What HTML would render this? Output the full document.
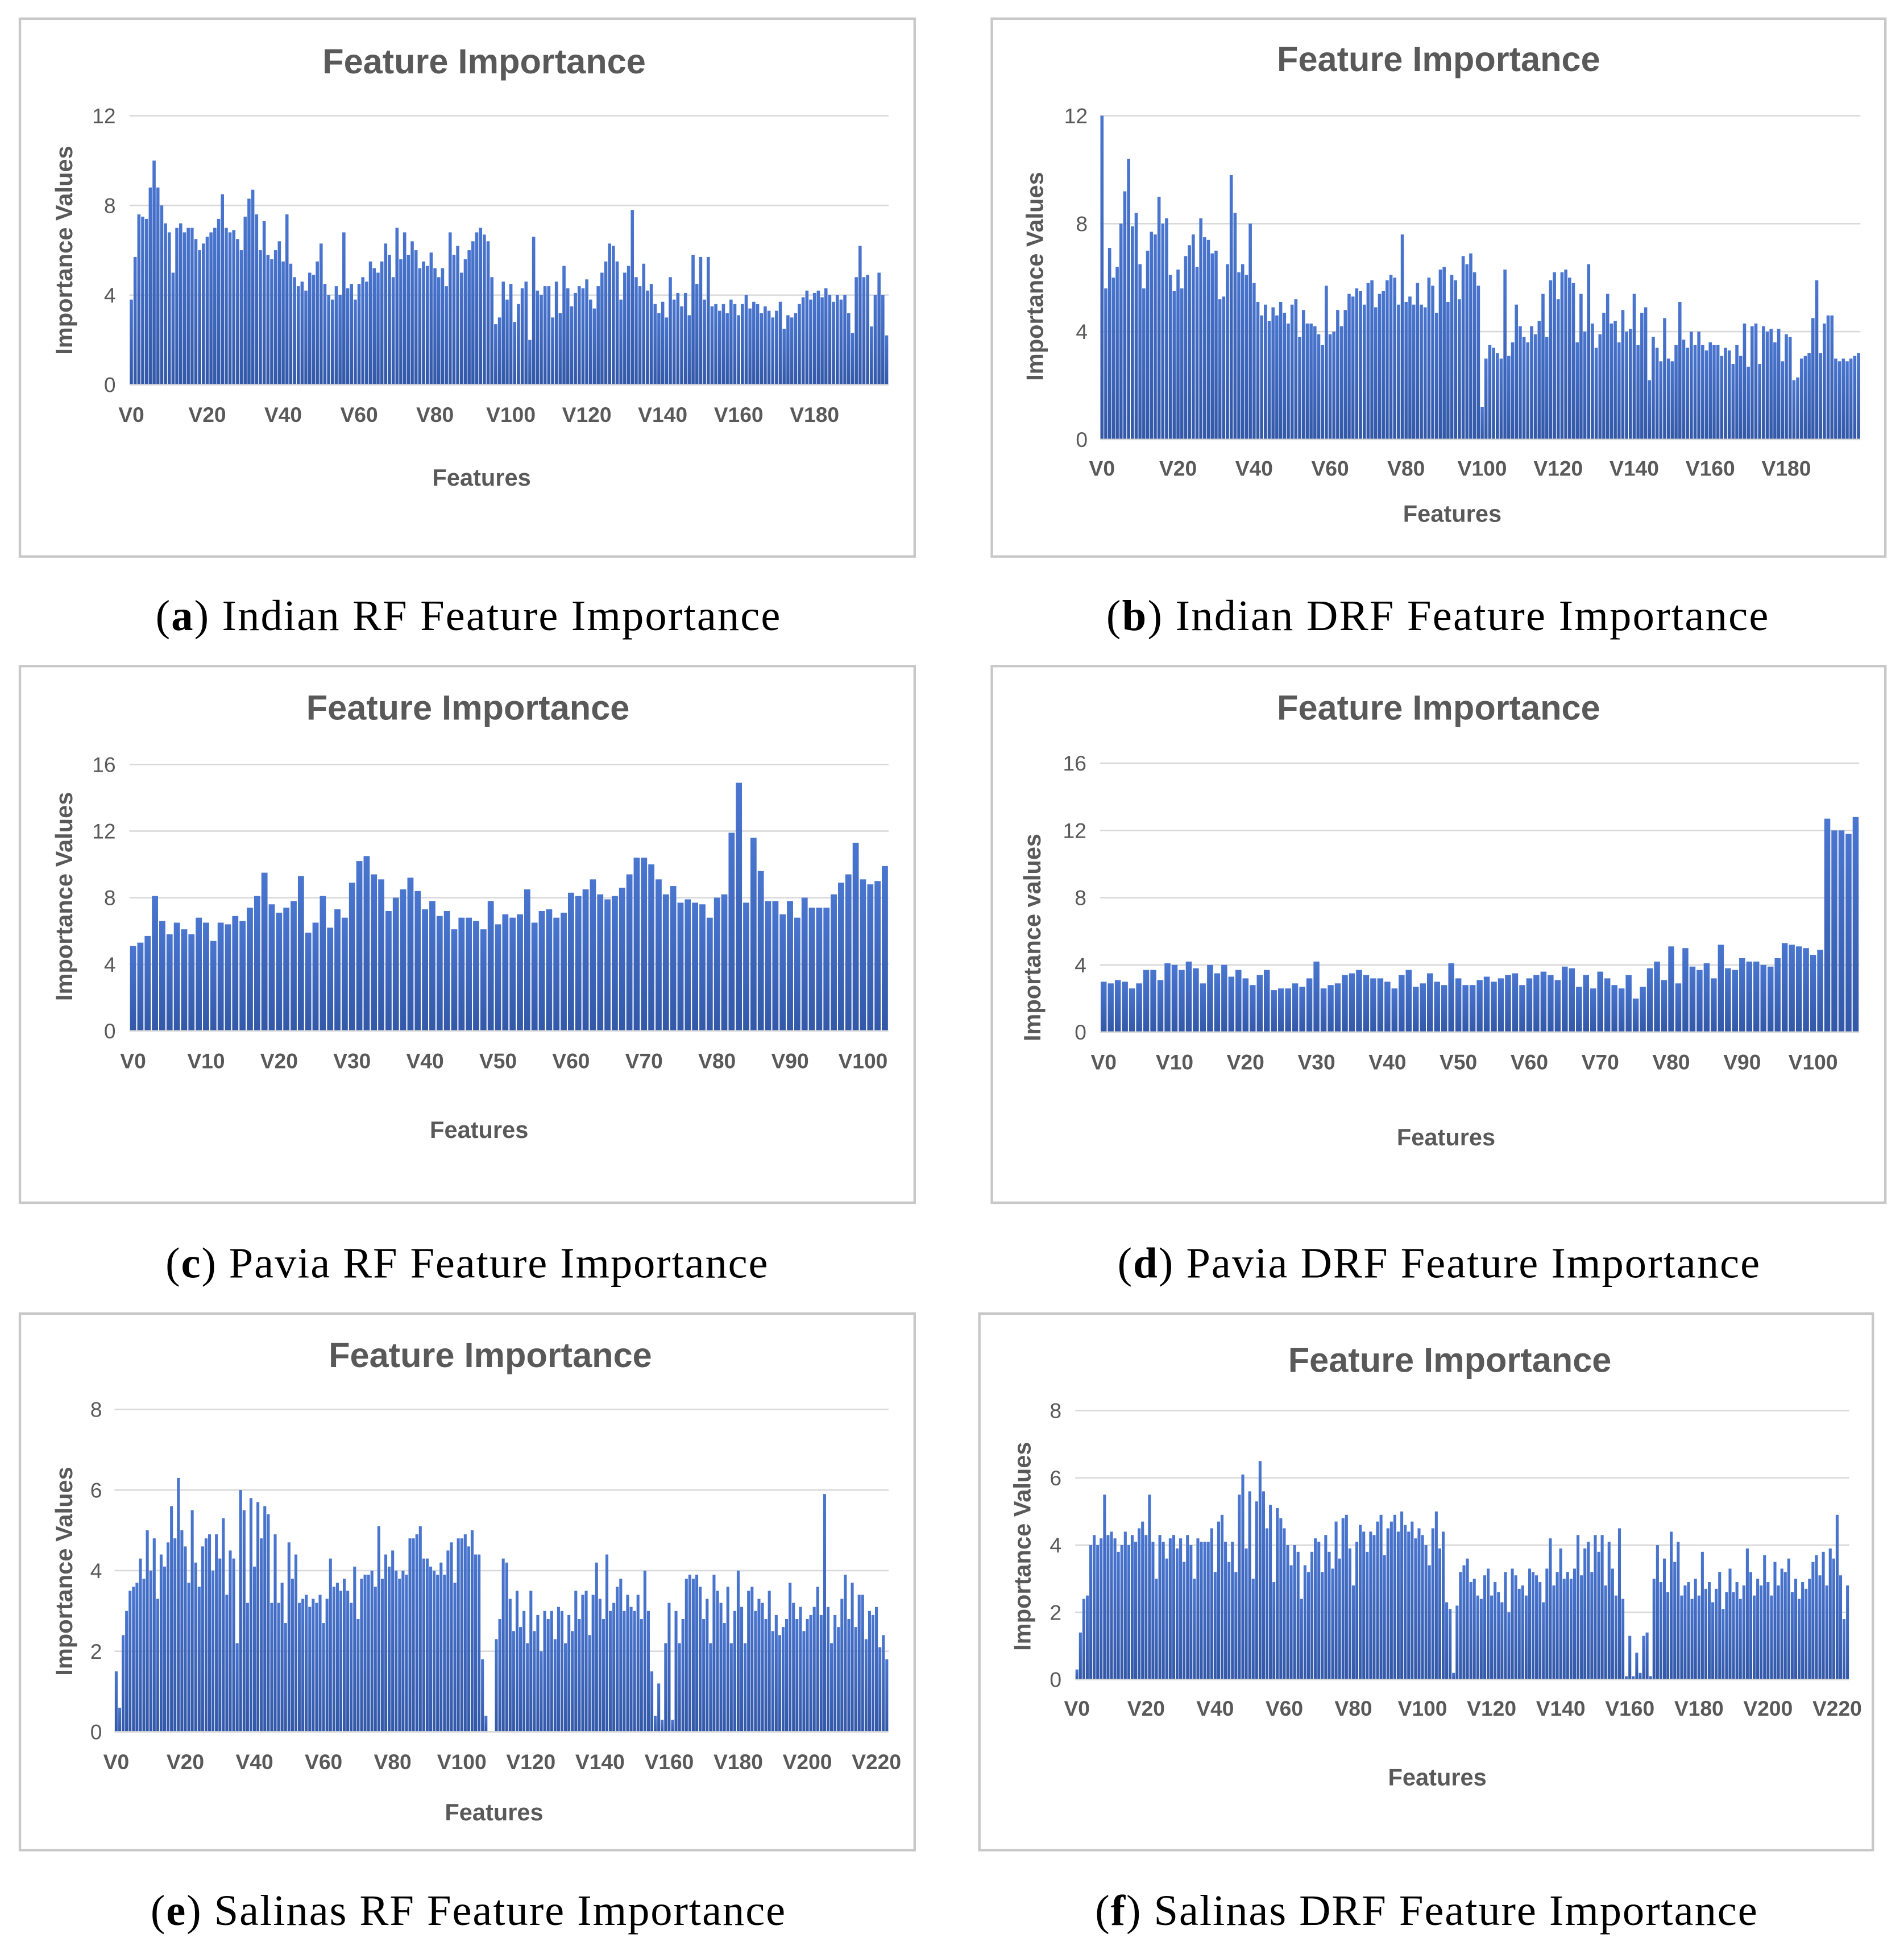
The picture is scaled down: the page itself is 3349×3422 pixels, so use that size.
<!DOCTYPE html>
<html><head><meta charset="utf-8">
<style>
html,body{margin:0;padding:0;background:#fff;}
svg{display:block;}
.t{font-family:"Liberation Sans",sans-serif;fill:#595959;}
.cap{font-family:"Liberation Serif",serif;fill:#000;font-size:35px;}
</style></head>
<body>
<svg id="fig" width="3349" height="3422" viewBox="0 0 1530 1563" preserveAspectRatio="none" xmlns="http://www.w3.org/2000/svg">
<defs>
<linearGradient id="bg" x1="0" y1="0" x2="0" y2="1"><stop offset="0" stop-color="#4a76d0"/><stop offset="1" stop-color="#3358a8"/></linearGradient>
</defs>
</svg>
<script>
const valsA=[3.8,5.7,7.6,7.5,7.4,8.8,10,8.8,8,7.2, 6.8,5,7,7.2,6.8,7,7,6.5,6,6.3, 6.6,6.8,7,7.4,8.5,7,6.8,6.9,6.5,6, 7.5,8.3,8.7,7.6,6,7.3,5.8,5.6,6,6.4, 5.5,7.6,5.4,4.8,4.4,4.6,4.2,5,4.9,5.5, 6.3,4.5,4,3.8,4.4,4,6.8,4.3,4.5,3.8, 4.5,4.8,4.6,5.5,5.2,5,5.5,6.3,5.8,4.8, 7,5.6,6.8,5.8,6.4,6,5.2,5.5,5.3,5.9, 5.2,4.8,5.2,4.4,6.8,5.8,6.2,5,5.6,6, 6.4,6.8,7,6.7,6.4,4.8,2.7,3,4.6,3.8, 4.5,2.8,3.6,4.3,4.6,2,6.6,4.2,4,4.4, 4.4,3,4.6,3.2,5.3,4.3,3.5,4.1,4.4,4.3, 4.7,3.8,3.4,4.4,5,5.5,6.3,6.2,5.5,3.8, 5,5.3,7.8,4.8,4.4,5.4,4.2,4.5,3.6,3.2, 3.7,3,4.8,3.8,4.1,3.5,4.1,3.1,5.8,4.5, 5.7,3.8,5.7,3.5,3.6,3.3,3.6,3.2,3.8,3.6, 3.1,3.6,4,3.4,3.7,3.6,3.2,3.5,3.3,3, 3.3,3.7,2.5,3.1,3,3.2,3.6,3.9,4.2,3.8, 4.1,4.2,3.9,4.3,4,3.7,4,3.8,4,3.2, 2.3,4.8,6.2,4.8,4.9,2.6,4,5,4,2.2];
const valsB=[12,5.6,7.1,6,6.4,8,9.2,10.4,7.9,8.4, 6.5,5.6,7,7.7,7.6,9,8,8.2,6.1,5.5, 6.3,5.6,6.8,7.2,7.6,6.4,8.2,7.5,7.4,6.9, 7,5.2,5.3,6.5,9.8,8.4,6.2,6.5,6.1,8, 5.8,5.1,4.6,5,4.4,4.9,4.6,5.1,4.7,4.3, 5,5.2,3.8,4.8,4.3,4.3,4.2,3.9,3.5,5.7, 3.9,4,4.8,4.2,4.8,5.4,5.3,5.6,5.5,5, 5.8,5.9,4.9,5.4,5.5,5.9,6.1,6,5,7.6, 5.1,5.3,5,5.8,5,4.9,6,5.7,4.7,6.3, 6.4,5.1,6.1,5.9,5.2,6.8,6.5,6.9,6.2,5.7, 1.2,3,3.5,3.4,3.2,3,6.3,3.1,3.6,5, 4.2,3.8,3.6,4.2,3.9,4.4,5.4,3.8,5.9,6.2, 5.2,6.2,6.3,6,5.8,3.6,5.4,4,6.5,4.3, 3.4,3.9,4.7,5.4,4.3,4.4,3.6,4.8,4,4.1, 5.4,3.5,4.7,4.9,2.2,3.8,3.4,2.9,4.5,3, 2.9,3.5,5.1,3.7,3.4,4,3.5,4,3.5,3.3, 3.6,3.5,3.5,3.1,3.4,3.3,2.8,3.5,3.1,4.3, 2.7,4.2,4.3,2.8,4.2,4,4.1,3.6,4.1,2.9, 3.9,3.8,2.2,2.3,3,3.1,3.2,4.5,5.9,3.2, 4.3,4.6,4.6,3,2.9,3,2.9,3,3.1,3.2];
const valsC=[5.1,5.3,5.7,8.1,6.6,5.8,6.5,6.1,5.8,6.8, 6.5,5.4,6.5,6.4,6.9,6.6,7.4,8.1,9.5,7.6, 7.1,7.4,7.8,9.3,5.9,6.5,8.1,6.2,7.3,6.8, 8.9,10.2,10.5,9.4,9.1,7.2,8,8.5,9.2,8.4, 7.3,7.8,6.9,7.2,6.1,6.8,6.8,6.6,6.1,7.8, 6.4,7,6.8,7,8.5,6.5,7.2,7.3,6.8,7.1, 8.3,8.1,8.5,9.1,8.2,7.9,8.1,8.6,9.4,10.4, 10.4,10,9.1,8.2,8.7,7.7,7.9,7.7,7.6,6.8, 8,8.2,11.9,14.9,7.7,11.6,9.6,7.8,7.8,7, 7.8,6.8,8,7.4,7.4,7.4,8.2,8.9,9.4,11.3, 9.1,8.8,9,9.9];
const valsD=[3,2.9,3.1,3,2.6,2.9,3.7,3.7,3.1,4.1, 4,3.7,4.2,3.8,2.9,4,3.5,4,3.3,3.7, 3.2,2.8,3.4,3.7,2.5,2.6,2.6,2.9,2.7,3.2, 4.2,2.6,2.8,2.9,3.4,3.5,3.7,3.4,3.2,3.2, 3,2.6,3.4,3.7,2.7,2.9,3.5,3,2.8,4.1, 3.2,2.8,2.8,3.1,3.3,3,3.2,3.4,3.5,2.8, 3.2,3.4,3.6,3.4,3.1,3.9,3.8,2.7,3.4,2.6, 3.6,3.2,2.8,2.6,3.4,2,2.7,3.8,4.2,3.1, 5.1,2.9,5,3.9,3.7,4.1,3.2,5.2,3.8,3.7, 4.4,4.2,4.2,4,3.9,4.4,5.3,5.2,5.1,5, 4.6,4.9,12.7,12,12,11.8,12.8];
const valsE=[1.5,0.6,2.4,3,3.5,3.6,3.7,4.3,3.8,5, 4,4.8,3.3,4.4,4.1,4.7,5.6,4.8,6.3,5, 4.6,3.7,5.5,4.2,3.6,4.6,4.8,4.9,4,4.9, 4.3,5.3,3.4,4.5,4.3,2.2,6,5.5,3.2,5.8, 4.1,5.7,4.8,5.6,5.4,3.2,4.9,3.2,3.7,2.7, 4.7,3.8,4.4,3.2,3.3,3.4,3.1,3.3,3.2,3.4, 2.7,3.3,4.3,3.6,3.7,3.5,3.8,3.5,3.2,4.1, 2.8,3.8,3.9,3.9,4,3.6,5.1,3.8,4.4,4.1, 4.5,4,3.8,4,3.9,4.8,4.8,4.9,5.1,4.3, 4.3,4.1,4,3.9,4.2,3.9,4.5,4.7,3.7,4.8, 4.8,4.9,4.6,5,4.4,4.4,1.8,0.4,0,0, 2.3,2.8,4.3,4.2,3.3,2.5,3.5,2.6,3,2.2, 3.5,2.5,2.9,2,3,2.8,3,2.3,3.1,3, 2.2,2.9,2.5,3.5,2.8,3.4,3.5,2.4,3.4,4.2, 3.3,2.8,4.4,3,3.2,3.6,3.8,3,3.4,3.1, 3,3.4,2.8,4,3,1.5,0.4,1.2,0.3,2.2, 3.2,0.3,3,2.2,2.8,3.8,3.9,3.8,3.9,3.6, 2.8,3.3,2.2,3.9,3.5,3.2,2.7,3.6,2.2,3, 4,3.1,2.2,3.5,3.6,3,3.3,3.2,2.8,3.5, 2.5,2.9,2.4,2.6,2.8,3.7,3.2,2.8,3.1,2.5, 2.8,2.9,3.1,3.6,2.9,5.9,3.1,2.2,2.9,2.6, 3.3,3.9,2.8,3.7,2.6,3.4,3.4,2.3,3,2.9, 3.1,2.1,2.4,1.8];
const valsF=[0.3,1.4,2.4,2.5,4,4.3,4,4.2,5.5,4.3, 4.4,4.2,3.8,4,4.4,4,4.3,4.1,4.5,4.7, 4.3,5.5,4.1,3,4.3,4.1,3.6,4.2,4.3,3.9, 4.2,3.5,4.3,4,3,4.2,4.1,4.1,4.1,4.5, 3.2,4.7,4.9,4.1,3.5,4.1,3.2,5.5,6.1,3.9, 5.6,3,5.3,6.5,5.6,4.5,5.2,2.9,5.1,4.8, 4.5,4,3.4,4,3.8,2.4,3.4,3.2,3.8,4.2, 4.1,3.2,4.3,3.8,3.3,4.7,3.6,4.8,4.9,3.9, 2.8,4.1,4.6,4.4,3.8,4.4,4.3,4.7,4.9,3.7, 4.5,4.7,4.9,4.4,5,4.6,4.4,4.7,4.2,4.5, 4.3,4,3.4,4.5,5,3.9,4.4,2.3,2.1,0.2, 2.2,3.2,3.4,3.6,2.9,3,2.5,2.4,3.1,3.3, 2.5,2.9,2.6,2.3,3.2,2,3.3,3.1,2.7,2.8, 2.5,3.3,3.2,3.1,2.9,2.3,3.3,4.2,2.8,3.2, 3.9,3,3.2,3,3.3,4.3,3.1,3.9,4.1,3.2, 4.3,3.8,4.3,2.8,4.1,3.3,2.5,4.5,2.4,0.1, 1.3,0.1,0.8,0.2,1.3,1.4,0.1,3,4,2.9, 3.6,2.6,4.4,3.5,4.1,2.5,2.8,2.9,2.4,3, 2.5,3.8,2.7,2.9,2.3,2.7,3.2,2.1,2.6,3.3, 2.6,2.9,2.4,2.8,3.9,3.2,2.5,3,2.8,3.7, 2.9,2.5,3.5,2.8,3.3,3.2,3.6,2.6,3,2.4, 2.9,2.7,3,3.5,3.7,3.1,3.8,2.8,3.9,3.6, 4.9,3.1,1.8,2.8];
const yTicksA=[0,4,8,12];
const yTicksC=[0,4,8,12,16];
const yTicksE=[0,2,4,6,8];
const xLabels20=["V0","V20","V40","V60","V80","V100","V120","V140","V160","V180"];
const xLabels10=["V0","V10","V20","V30","V40","V50","V60","V70","V80","V90","V100"];
const xLabels20e=["V0","V20","V40","V60","V80","V100","V120","V140","V160","V180","V200","V220"];

const NS="http://www.w3.org/2000/svg";
const svg=document.getElementById('fig');
function mk(tag,attrs,parent,text){const e=document.createElementNS(NS,tag);for(const k in attrs)e.setAttribute(k,attrs[k]);if(text!==undefined)e.textContent=text;(parent||svg).appendChild(e);return e;}

function chart(c){
  const g=mk('g',{});
  
  
  const box=mk('rect',{x:c.bx,y:c.by,width:c.bw,height:c.bh,fill:'#fff',stroke:'#c8c8c8','stroke-width':2},g);
  
  
  const ymax=c.ticks[c.ticks.length-1];
  const yS=v=>c.y0-(v/ymax)*(c.y0-c.yTop);
  const step=(c.x1-c.x0)/c.vals.length;
  const xS=i=>c.x0+i*step;
  c.ticks.forEach(t=>{
    if(t>0){const l=mk('line',{x1:c.x0,x2:c.x1,y1:yS(t),y2:yS(t),stroke:'#d9d9d9','stroke-width':1.2},g);
      
      }
    const tx=mk('text',{x:c.tickX,y:yS(t)+6,'text-anchor':'end','font-size':17,class:'t'},g,String(t));
    
    
  });
  c.vals.forEach((v,i)=>{
    const r=mk('rect',{x:xS(i)+step*0.08,y:yS(v),width:step*0.84,height:c.y0-yS(v),fill:'url(#bg)'},g);
    
    
  });
  const ax=mk('line',{x1:c.x0,x2:c.x1,y1:c.y0,y2:c.y0,stroke:'#d9d9d9','stroke-width':1.2},g);
  
  
  c.labels.forEach(s=>{
    const i=parseInt(s.slice(1));
    const tx=mk('text',{x:xS(i)+step/2,y:c.labY,'text-anchor':'middle','font-size':17,'font-weight':'bold',class:'t'},g,s);
    
    
  });
  const tt=mk('text',{x:c.titleX,y:c.titleY,'text-anchor':'middle','font-size':28,'font-weight':'bold',class:'t'},g,'Feature Importance');
  
  
  const yt=mk('text',{x:0,y:0,'text-anchor':'middle','font-size':19,'font-weight':'bold',class:'t',transform:`translate(${c.ytX},${c.ytY}) rotate(-90)`},g,c.ytitle);
  
  
  const xt=mk('text',{x:c.xtX,y:c.xtY,'text-anchor':'middle','font-size':19,'font-weight':'bold',class:'t'},g,'Features');
  
  
  const cp=mk('text',{x:c.capX,y:c.capY,'text-anchor':'middle',class:'cap',textLength:c.capW,lengthAdjust:'spacing'},g);
  
  
  mk('tspan',{},cp,'(');
  mk('tspan',{'font-weight':'bold'},cp,c.id);
  mk('tspan',{},cp,') '+c.cap);
}

chart({id:'a',vals:valsA,ticks:yTicksA,labels:xLabels20,bx:16,by:15,bw:719,bh:432,x0:104,x1:714,y0:309,yTop:93,tickX:93,labY:339,titleX:389,titleY:59,ytitle:'Importance Values',ytX:58,ytY:201,xtX:387,xtY:390,capX:376,capY:506,capW:502,cap:'Indian RF Feature Importance'});
chart({id:'b',vals:valsB,ticks:yTicksA,labels:xLabels20,bx:797,by:15,bw:718,bh:432,x0:884,x1:1495,y0:353,yTop:93,tickX:874,labY:382,titleX:1156,titleY:57,ytitle:'Importance Values',ytX:838,ytY:222,xtX:1167,xtY:419,capX:1155,capY:506,capW:532,cap:'Indian DRF Feature Importance'});
chart({id:'c',vals:valsC,ticks:yTicksC,labels:xLabels10,bx:16,by:535,bw:719,bh:431,x0:104,x1:714,y0:828,yTop:614,tickX:93,labY:858,titleX:376,titleY:578,ytitle:'Importance Values',ytX:58,ytY:720,xtX:385,xtY:914,capX:375,capY:1026,capW:484,cap:'Pavia RF Feature Importance'});
chart({id:'d',vals:valsD,ticks:yTicksC,labels:xLabels10,bx:797,by:535,bw:718,bh:431,x0:884,x1:1494,y0:829,yTop:613,tickX:873,labY:859,titleX:1156,titleY:578,ytitle:'Importance values',ytX:836,ytY:753,xtX:1162,xtY:920,capX:1156,capY:1026,capW:516,cap:'Pavia DRF Feature Importance'});
chart({id:'e',vals:valsE,ticks:yTicksE,labels:xLabels20e,bx:16,by:1055,bw:719,bh:431,x0:92,x1:714,y0:1391,yTop:1132,tickX:82,labY:1421,titleX:394,titleY:1098,ytitle:'Importance Values',ytX:58,ytY:1262,xtX:397,xtY:1462,capX:376,capY:1546,capW:510,cap:'Salinas RF Feature Importance'});
chart({id:'f',vals:valsF,ticks:yTicksE,labels:xLabels20e,bx:787,by:1055,bw:718,bh:431,x0:864,x1:1486,y0:1349,yTop:1133,tickX:853,labY:1378,titleX:1165,titleY:1102,ytitle:'Importance Values',ytX:828,ytY:1242,xtX:1155,xtY:1434,capX:1146,capY:1546,capW:532,cap:'Salinas DRF Feature Importance'});
</script>
</body></html>
